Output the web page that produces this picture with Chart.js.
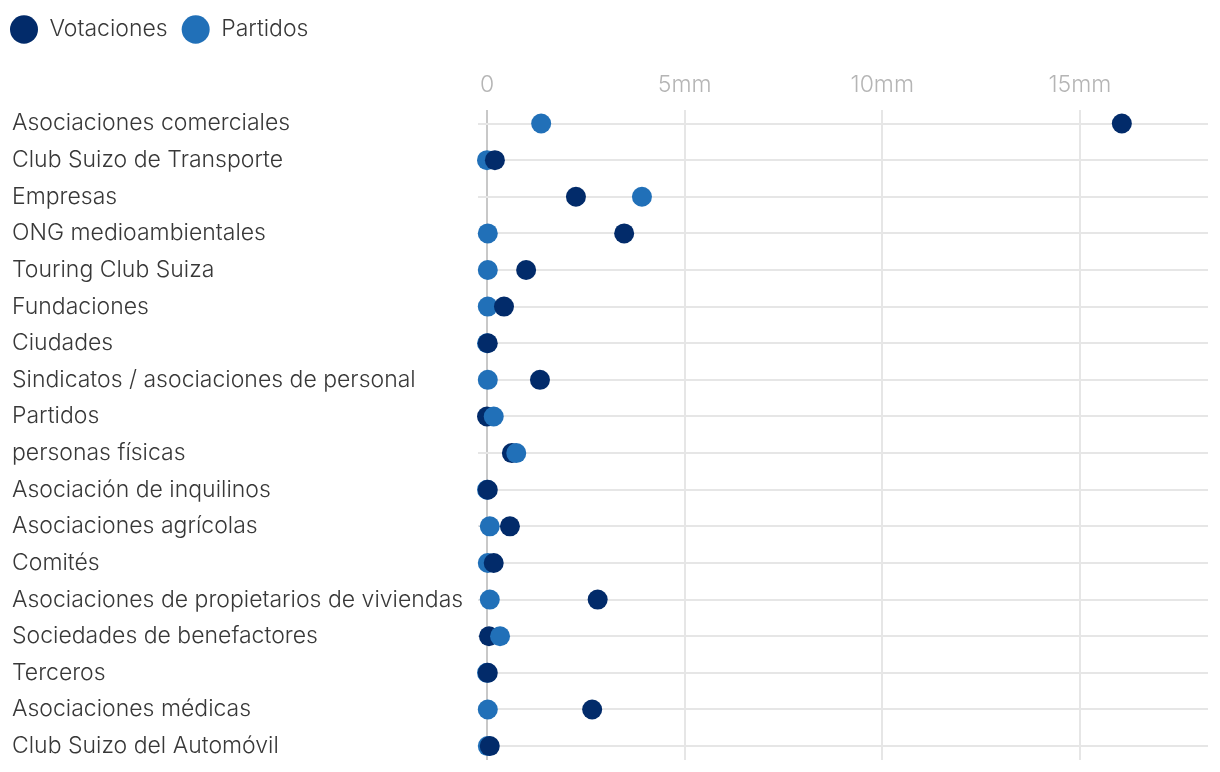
<!DOCTYPE html>
<html>
<head>
<meta charset="utf-8">
<script src="https://cdn.jsdelivr.net/npm/chart.js@4"></script>
<style>
  html, body { margin: 0; padding: 0; background: #fff; }
  #wrap { position: relative; width: 1220px; height: 772px; }
</style>
</head>
<body>
<div id="wrap"><canvas id="c"></canvas></div>
<script>
// categories, top to bottom
var categorias = [
    'Asociaciones comerciales', 'Club Suizo de Transporte', 'Empresas', 'ONG medioambientales',
    'Touring Club Suiza', 'Fundaciones', 'Ciudades', 'Sindicatos / asociaciones de personal',
    'Partidos', 'personas físicas', 'Asociación de inquilinos', 'Asociaciones agrícolas',
    'Comités', 'Asociaciones de propietarios de viviendas', 'Sociedades de benefactores',
    'Terceros', 'Asociaciones médicas', 'Club Suizo del Automóvil'
];
// millions
var votaciones = [16.06, 0.2, 2.25, 3.47, 0.99, 0.43, 0.02, 1.34, 0.0, 0.63, 0.02, 0.58, 0.17, 2.8, 0.05, 0.02, 2.66, 0.07];
var partidos   = [1.37, 0.0, 3.92, 0.02, 0.02, 0.02, 0.0, 0.02, 0.17, 0.74, 0.0, 0.07, 0.02, 0.07, 0.33, 0.0, 0.02, 0.02];
var ticksX = [0, 5, 10, 15];

var AZUL_OSCURO = '#022b6a';
var AZUL = '#2170b8';
var FUENTE = '"Inter Light", Inter, "Noto Sans", sans-serif';

function puntos(valores, filtro) {
    return valores.map(function (v, i) {
        if (filtro && !filtro(i)) return null;
        return {x: v, y: i};
    }).filter(function (p) { return p; });
}

// the point further right is drawn on top
var partidosArriba = function (i) { return partidos[i] > votaciones[i]; };
var partidosAbajo = function (i) { return !partidosArriba(i); };

// legend spacing tweaks
var ajusteLeyenda = {
    id: 'ajusteLeyenda',
    beforeInit: function (chart) {
        var fit = chart.legend.fit;
        chart.legend.fit = function () {
            fit.call(this);
            this.height += 9;
        };
    },
    afterLayout: function (chart) {
        chart.legend.left = -4;
    }
};

new Chart(document.getElementById('c'), {
    type: 'scatter',
    data: {
        datasets: [
            {label: 'Votaciones', data: [], backgroundColor: AZUL_OSCURO, order: 9},
            {label: 'Partidos', data: [], backgroundColor: AZUL, order: 8},
            {label: 'p_fondo', data: puntos(partidos, partidosAbajo), backgroundColor: AZUL, order: 3},
            {label: 'v', data: puntos(votaciones), backgroundColor: AZUL_OSCURO, order: 2},
            {label: 'p_frente', data: puntos(partidos, partidosArriba), backgroundColor: AZUL, order: 1}
        ].map(function (d) {
            d.borderWidth = 0;
            d.pointRadius = 10;
            d.pointHoverRadius = 10;
            d.clip = false;
            d.pointStyle = 'circle';
            return d;
        })
    },
    options: {
        responsive: true,
        maintainAspectRatio: false,
        animation: false,
        layout: {padding: {left: 12, right: 12, top: 4, bottom: 12}},
        plugins: {
            tooltip: {enabled: false},
            legend: {
                position: 'top',
                align: 'start',
                labels: {
                    filter: function (item) { return item.datasetIndex < 2; },
                    sort: function (a, b) { return a.datasetIndex - b.datasetIndex; },
                    usePointStyle: true,
                    pointStyleWidth: 28,
                    boxHeight: 20,
                    padding: 14,
                    color: '#383838',
                    font: {family: FUENTE, size: 23, weight: 300}
                }
            }
        },
        scales: {
            x: {
                position: 'top',
                min: 0,
                max: 18.24,
                afterBuildTicks: function (scale) {
                    scale.ticks = ticksX.map(function (v) { return {value: v}; });
                },
                ticks: {
                    color: '#b5b5b5',
                    font: {family: FUENTE, size: 23, weight: 300},
                    padding: 11,
                    callback: function (v) { return v === 0 ? '0' : v + 'mm'; }
                },
                grid: {
                    color: function (ctx) { return ctx.tick && ctx.tick.value === 0 ? '#c8c8c8' : '#e6e6e6'; },
                    lineWidth: 2,
                    drawTicks: false
                },
                border: {display: false}
            },
            y: {
                reverse: true,
                min: -0.38,
                max: categorias.length - 1 + 0.38,
                afterBuildTicks: function (scale) {
                    scale.ticks = categorias.map(function (c, i) { return {value: i}; });
                },
                afterFit: function (scale) {
                    scale.width = 475;
                    scale.paddingTop = 0;
                    scale.paddingBottom = 0;
                },
                ticks: {
                    crossAlign: 'far',
                    color: '#383838',
                    font: {family: FUENTE, size: 23, weight: 300},
                    padding: 0,
                    callback: function (v) { return categorias[v]; }
                },
                grid: {
                    color: '#e6e6e6',
                    lineWidth: 2,
                    tickLength: 9,
                    tickColor: '#e6e6e6'
                },
                border: {display: false}
            }
        }
    },
    plugins: [ajusteLeyenda]
});
</script>
</body>
</html>
